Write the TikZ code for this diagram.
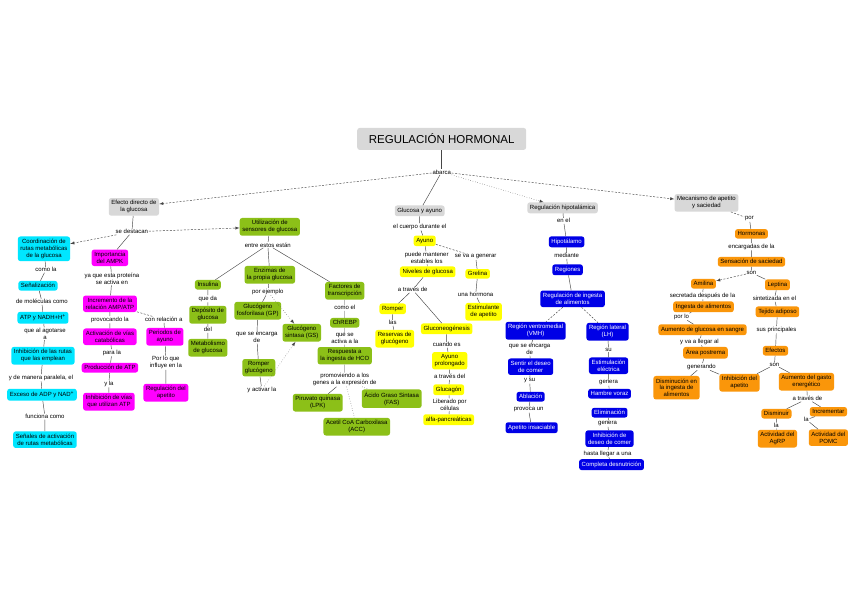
\documentclass[tikz,border=0pt]{standalone}
\usepackage{fontspec}
\setmainfont{Liberation Sans}
\usetikzlibrary{positioning}

\definecolor{gris}{RGB}{216,216,216}
\definecolor{cian}{RGB}{0,230,255}
\definecolor{rosa}{RGB}{255,0,255}
\definecolor{verde}{RGB}{140,192,24}
\definecolor{amar}{RGB}{255,255,0}
\definecolor{azul}{RGB}{0,0,230}
\definecolor{nar}{RGB}{250,150,10}
\definecolor{trazo}{RGB}{70,70,70}

\newcommand{\chico}{\fontsize{6}{6.9}\selectfont}
\newcommand{\grande}{\fontsize{11.5}{13}\selectfont}

\begin{document}
\begin{tikzpicture}[
        x=1pt, y=-1pt,
        >=latex,
        box/.style={
            rounded corners=2.5pt, inner sep=2.6pt,
            align=center, font=\chico
        },
        titulo/.style={box, fill=gris, font=\grande, minimum width=169pt, minimum height=22pt},
        gris/.style={box, fill=gris},
        cian/.style={box, fill=cian},
        rosa/.style={box, fill=rosa},
        verde/.style={box, fill=verde},
        amar/.style={box, fill=amar},
        azul/.style={box, fill=azul, text=white},
        nar/.style={box, fill=nar},
        lbl/.style={inner sep=0.6pt, align=center, font=\chico},
        linea/.style={draw=trazo, line width=0.45pt},
        dlinea/.style={linea, dash pattern=on 2pt off 1.5pt},
        dflecha/.style={dlinea, ->},
        pflecha/.style={linea, dotted, ->}
    ]

    \fill[white] (0,0) rectangle (848,599);

    % 1. Titulo y ramas principales
    \node[titulo] (raiz) at (442,139) {REGULACIÓN HORMONAL};
    \node[lbl] (abarca) at (442,172) {abarca};
    \node[gris] (efecto) at (134,207) {Efecto directo de\\la glucosa};
    \node[gris] (ayunoG) at (420,211) {Glucosa y ayuno};
    \node[gris] (hipo) at (563,208) {Regulación hipotalámica};
    \node[gris] (meca) at (707,203) {Mecanismo de apetito\\y saciedad};

    \draw[linea] (raiz) -- (abarca);
    \draw[dflecha] (abarca) -- (efecto);
    \draw[linea] (abarca) -- (ayunoG);
    \draw[pflecha] (abarca) -- (hipo);
    \draw[dflecha] (abarca) -- (meca);

    % 2. Efecto directo de la glucosa
    \node[lbl] (destaca) at (132,232) {se destacan};
    \draw[linea] (efecto) -- (destaca);

    % Columna cian
    \node[cian] (coord) at (44,249) {Coordinación de\\rutas metabólicas\\de la glucosa};
    \node[lbl] (comoLa) at (46,270) {como la};
    \node[cian] (senal) at (38,286) {Señalización};
    \node[lbl] (molec) at (42,302) {de moléculas como};
    \node[cian] (atp) at (43,318) {ATP y NADH+H\textsuperscript{+}};
    \node[lbl] (agotar) at (45,334) {que al agotarse\\a};
    \node[cian] (inhib) at (43,356) {Inhibición de las rutas\\que las emplean};
    \node[lbl] (paral) at (41,378) {y de manera paralela, el};
    \node[cian] (exceso) at (42,395) {Exceso de ADP y NAD\textsuperscript{+}};
    \node[lbl] (funciona) at (45,417) {funciona como};
    \node[cian] (senales) at (45,440) {Señales de activación\\de rutas metabólicas};

    \draw[dflecha] (destaca) -- (coord);
    \draw[linea] (coord) -- (comoLa) -- (senal) -- (molec) -- (atp) -- (agotar)
        -- (inhib) -- (paral) -- (exceso) -- (funciona) -- (senales);

    % Columna rosa
    \node[rosa] (ampk) at (110,258) {Importancia\\del AMPK};
    \node[lbl] (activa) at (112,279) {ya que esta proteína\\se activa en};
    \node[rosa] (incr) at (110,304) {Incremento de la\\relación AMP/ATP};
    \node[lbl] (provoca) at (110,320) {provocando la};
    \node[rosa] (catab) at (110,337) {Activación de vías\\catabólicas};
    \node[lbl] (paraLa) at (112,353) {para la};
    \node[rosa] (prodATP) at (110,368) {Producción de ATP};
    \node[lbl] (yLa) at (109,384) {y la};
    \node[rosa] (inhATP) at (109,402) {Inhibición de vías\\que utilizan ATP};
    \node[lbl] (relac) at (164,320) {con relación a};
    \node[rosa] (ayunoP) at (165,337) {Periodos de\\ayuno};
    \node[lbl] (influye) at (166,363) {Por lo que\\influye en la};
    \node[rosa] (apetito) at (166,393) {Regulación del\\apetito};

    \draw[linea] (destaca) -- (ampk);
    \draw[linea] (ampk) -- (activa) -- (incr) -- (provoca) -- (catab) -- (paraLa)
        -- (prodATP) -- (yLa) -- (inhATP);
    \draw[dlinea] (incr) -- (relac);
    \draw[linea] (relac) -- (ayunoP) -- (influye) -- (apetito);

    % Columna verde
    \node[verde] (sensores) at (270,227) {Utilización de\\sensores de glucosa};
    \node[lbl] (estos) at (268,245) {entre estos están};
    \node[verde] (insulina) at (208,285) {Insulina};
    \node[lbl] (queDa) at (208,299) {que da};
    \node[verde] (deposito) at (208,315) {Depósito de\\glucosa};
    \node[lbl] (del) at (208,330) {del};
    \node[verde] (metab) at (208,348) {Metabolismo\\de glucosa};
    \node[verde] (enzimas) at (270,275) {Enzimas de\\la propia glucosa};
    \node[lbl] (ejemplo) at (268,292) {por ejemplo};
    \node[verde] (gp) at (258,311) {Glucógeno\\fosforilasa (GP)};
    \node[lbl] (encarga) at (257,338) {que se encarga\\de};
    \node[verde] (romperG) at (259,368) {Romper\\glucógeno};
    \node[lbl] (activar) at (262,390) {y activar la};
    \node[verde] (gs) at (302,333) {Glucógeno\\sintasa (GS)};
    \node[verde] (factores) at (345,291) {Factores de\\transcripción};
    \node[lbl] (comoEl) at (345,308) {como el};
    \node[verde] (chrebp) at (345,323) {ChREBP};
    \node[lbl] (seActiva) at (345,339) {que se\\activa a la};
    \node[verde] (respHCO) at (345,356) {Respuesta a\\la ingesta de HCO};
    \node[lbl] (promueve) at (345,380) {promoviendo a los\\genes a la expresión de};
    \node[verde] (lpk) at (318,403) {Piruvato quinasa\\(LPK)};
    \node[verde] (acc) at (357,427) {Acetil CoA Carboxilasa\\(ACC)};
    \node[verde] (fas) at (392,399) {Ácido Graso Sintasa\\(FAS)};

    \draw[dflecha] (destaca) -- (sensores);
    \draw[linea] (sensores) -- (estos);
    \draw[linea] (estos) -- (insulina) -- (queDa) -- (deposito) -- (del) -- (metab);
    \draw[linea] (estos) -- (enzimas) -- (ejemplo) -- (gp) -- (encarga) -- (romperG) -- (activar);
    \draw[pflecha] (ejemplo) -- (gs);
    \draw[pflecha] (activar) -- (gs);
    \draw[linea] (estos) -- (factores) -- (comoEl) -- (chrebp) -- (seActiva) -- (respHCO) -- (promueve);
    \draw[linea] (promueve) -- (lpk);
    \draw[linea, dotted] (promueve) -- (acc);
    \draw[linea, dotted] (promueve) -- (fas);

    % 3. Glucosa y ayuno
    \node[lbl] (durante) at (420,227) {el cuerpo durante el};
    \node[amar] (ayuno) at (425,241) {Ayuno};
    \node[lbl] (mantener) at (427,258) {puede mantener\\estables los};
    \node[amar] (niveles) at (428,272) {Niveles de glucosa};
    \node[lbl] (atraves) at (413,290) {a través de};
    \node[amar] (romper) at (393,309) {Romper};
    \node[lbl] (las) at (393,323) {las};
    \node[amar] (reservas) at (395,339) {Reservas de\\glucógeno};
    \node[amar] (gluco) at (447,329) {Gluconeogénesis};
    \node[lbl] (cuando) at (447,345) {cuando es};
    \node[amar] (ayunoProl) at (450,361) {Ayuno\\prolongado};
    \node[lbl] (atravesDel) at (450,377) {a través del};
    \node[amar] (glucagon) at (449,390) {Glucagón};
    \node[lbl] (liberado) at (450,405) {Liberado por\\células};
    \node[amar] (alfa) at (449,420) {alfa-pancreáticas};
    \node[lbl] (generar) at (476,257) {se va a generar};
    \node[amar] (grelina) at (478,274) {Grelina};
    \node[lbl] (hormona) at (476,295) {una hormona};
    \node[amar] (estimula) at (484,312) {Estimulante\\de apetito};

    \draw[linea] (ayunoG) -- (durante) -- (ayuno) -- (mantener) -- (niveles) -- (atraves);
    \draw[linea] (atraves) -- (romper) -- (las) -- (reservas);
    \draw[linea] (atraves) -- (gluco) -- (cuando) -- (ayunoProl) -- (atravesDel)
        -- (glucagon) -- (liberado) -- (alfa);
    \draw[dlinea] (ayuno) -- (generar);
    \draw[linea] (generar) -- (grelina) -- (hormona) -- (estimula);

    % 4. Regulacion hipotalamica
    \node[lbl] (enEl) at (564,221) {en el};
    \node[azul] (hipotal) at (567,242) {Hipotálamo};
    \node[lbl] (mediante) at (567,256) {mediante};
    \node[azul] (regiones) at (568,270) {Regiones};
    \node[azul] (ingesta) at (573,299) {Regulación de ingesta\\de alimentos};
    \node[azul] (vmh) at (536,331) {Región ventromedial\\(VMH)};
    \node[azul] (lh) at (608,332) {Región lateral\\(LH)};
    \node[lbl] (encargaB) at (530,350) {que se encarga\\de};
    \node[azul] (sentir) at (531,367) {Sentir el deseo\\de comer};
    \node[lbl] (ySu) at (530,381) {y su};
    \node[azul] (ablacion) at (531,397) {Ablación};
    \node[lbl] (provocaUn) at (529,410) {provoca un};
    \node[azul] (insaciable) at (532,428) {Apetito insaciable};
    \node[lbl] (su) at (609,350) {su};
    \node[azul] (electrica) at (609,366) {Estimulación\\eléctrica};
    \node[lbl] (genera) at (609,383) {genera};
    \node[azul] (voraz) at (610,394) {Hambre voraz};
    \node[azul] (elimina) at (610,413) {Eliminación};
    \node[lbl] (generaB) at (608,424) {genera};
    \node[azul] (inhDeseo) at (610,439) {Inhibición de\\deseo de comer};
    \node[lbl] (hasta) at (608,454) {hasta llegar a una};
    \node[azul] (desnut) at (612,465) {Completa desnutrición};

    \draw[linea] (hipo) -- (enEl) -- (hipotal) -- (mediante) -- (regiones) -- (ingesta);
    \draw[dlinea] (ingesta) -- (vmh);
    \draw[dlinea] (ingesta) -- (lh);
    \draw[linea] (vmh) -- (encargaB) -- (sentir) -- (ySu) -- (ablacion) -- (provocaUn) -- (insaciable);
    \draw[linea] (lh) -- (su) -- (electrica) -- (genera) -- (voraz);
    \draw[linea] (elimina) -- (generaB) -- (inhDeseo) -- (hasta) -- (desnut);

    % 5. Mecanismo de apetito y saciedad
    \node[lbl] (por) at (750,219) {por};
    \node[nar] (hormonas) at (752,234) {Hormonas};
    \node[lbl] (encargadas) at (752,247) {encargadas de la};
    \node[nar] (saciedad) at (752,262) {Sensación de saciedad};
    \node[lbl] (son) at (752,273) {son};
    \node[nar] (amilina) at (704,284) {Amilina};
    \node[nar] (leptina) at (778,285) {Leptina};
    \node[lbl] (secretada) at (703,296) {secretada después de la};
    \node[nar] (ingestaA) at (704,307) {Ingesta de alimentos};
    \node[lbl] (porLo) at (682,317) {por lo};
    \node[nar] (aumentoG) at (703,330) {Aumento de glucosa en sangre};
    \node[lbl] (llegar) at (700,342) {y va a llegar al};
    \node[nar] (postrema) at (706,353) {Área postrema};
    \node[lbl] (generando) at (702,367) {generando};
    \node[nar] (dismin) at (677,388) {Disminución en\\la ingesta de\\alimentos};
    \node[nar] (inhApet) at (740,383) {Inhibición del\\apetito};
    \node[lbl] (sintet) at (775,299) {sintetizada en el};
    \node[nar] (tejido) at (778,312) {Tejido adiposo};
    \node[lbl] (principales) at (777,330) {sus principales};
    \node[nar] (efectos) at (776,351) {Efectos};
    \node[lbl] (sonB) at (775,365) {son};
    \node[nar] (gasto) at (807,382) {Aumento del gasto\\energético};
    \node[lbl] (atravesB) at (808,399) {a través de};
    \node[nar] (disminuir) at (777,414) {Disminuir};
    \node[lbl] (laA) at (777,426) {la};
    \node[nar] (agrp) at (778,439) {Actividad del\\AgRP};
    \node[nar] (incrementar) at (829,412) {Incrementar};
    \node[lbl] (laB) at (807,420) {la};
    \node[nar] (pomc) at (829,438) {Actividad del\\POMC};

    \draw[dlinea] (meca) -- (por);
    \draw[linea] (por) -- (hormonas) -- (encargadas) -- (saciedad) -- (son);
    \draw[dflecha] (son) -- (amilina);
    \draw[linea] (son) -- (leptina);
    \draw[linea] (amilina) -- (secretada) -- (ingestaA) -- (porLo) -- (aumentoG) -- (llegar)
        -- (postrema) -- (generando);
    \draw[linea] (generando) -- (dismin);
    \draw[linea] (generando) -- (inhApet);
    \draw[linea] (leptina) -- (sintet) -- (tejido) -- (principales) -- (efectos) -- (sonB);
    \draw[linea] (sonB) -- (inhApet);
    \draw[linea] (sonB) -- (gasto) -- (atravesB);
    \draw[linea] (atravesB) -- (disminuir) -- (laA) -- (agrp);
    \draw[linea] (atravesB) -- (incrementar) -- (laB) -- (pomc);

\end{tikzpicture}
\end{document}
